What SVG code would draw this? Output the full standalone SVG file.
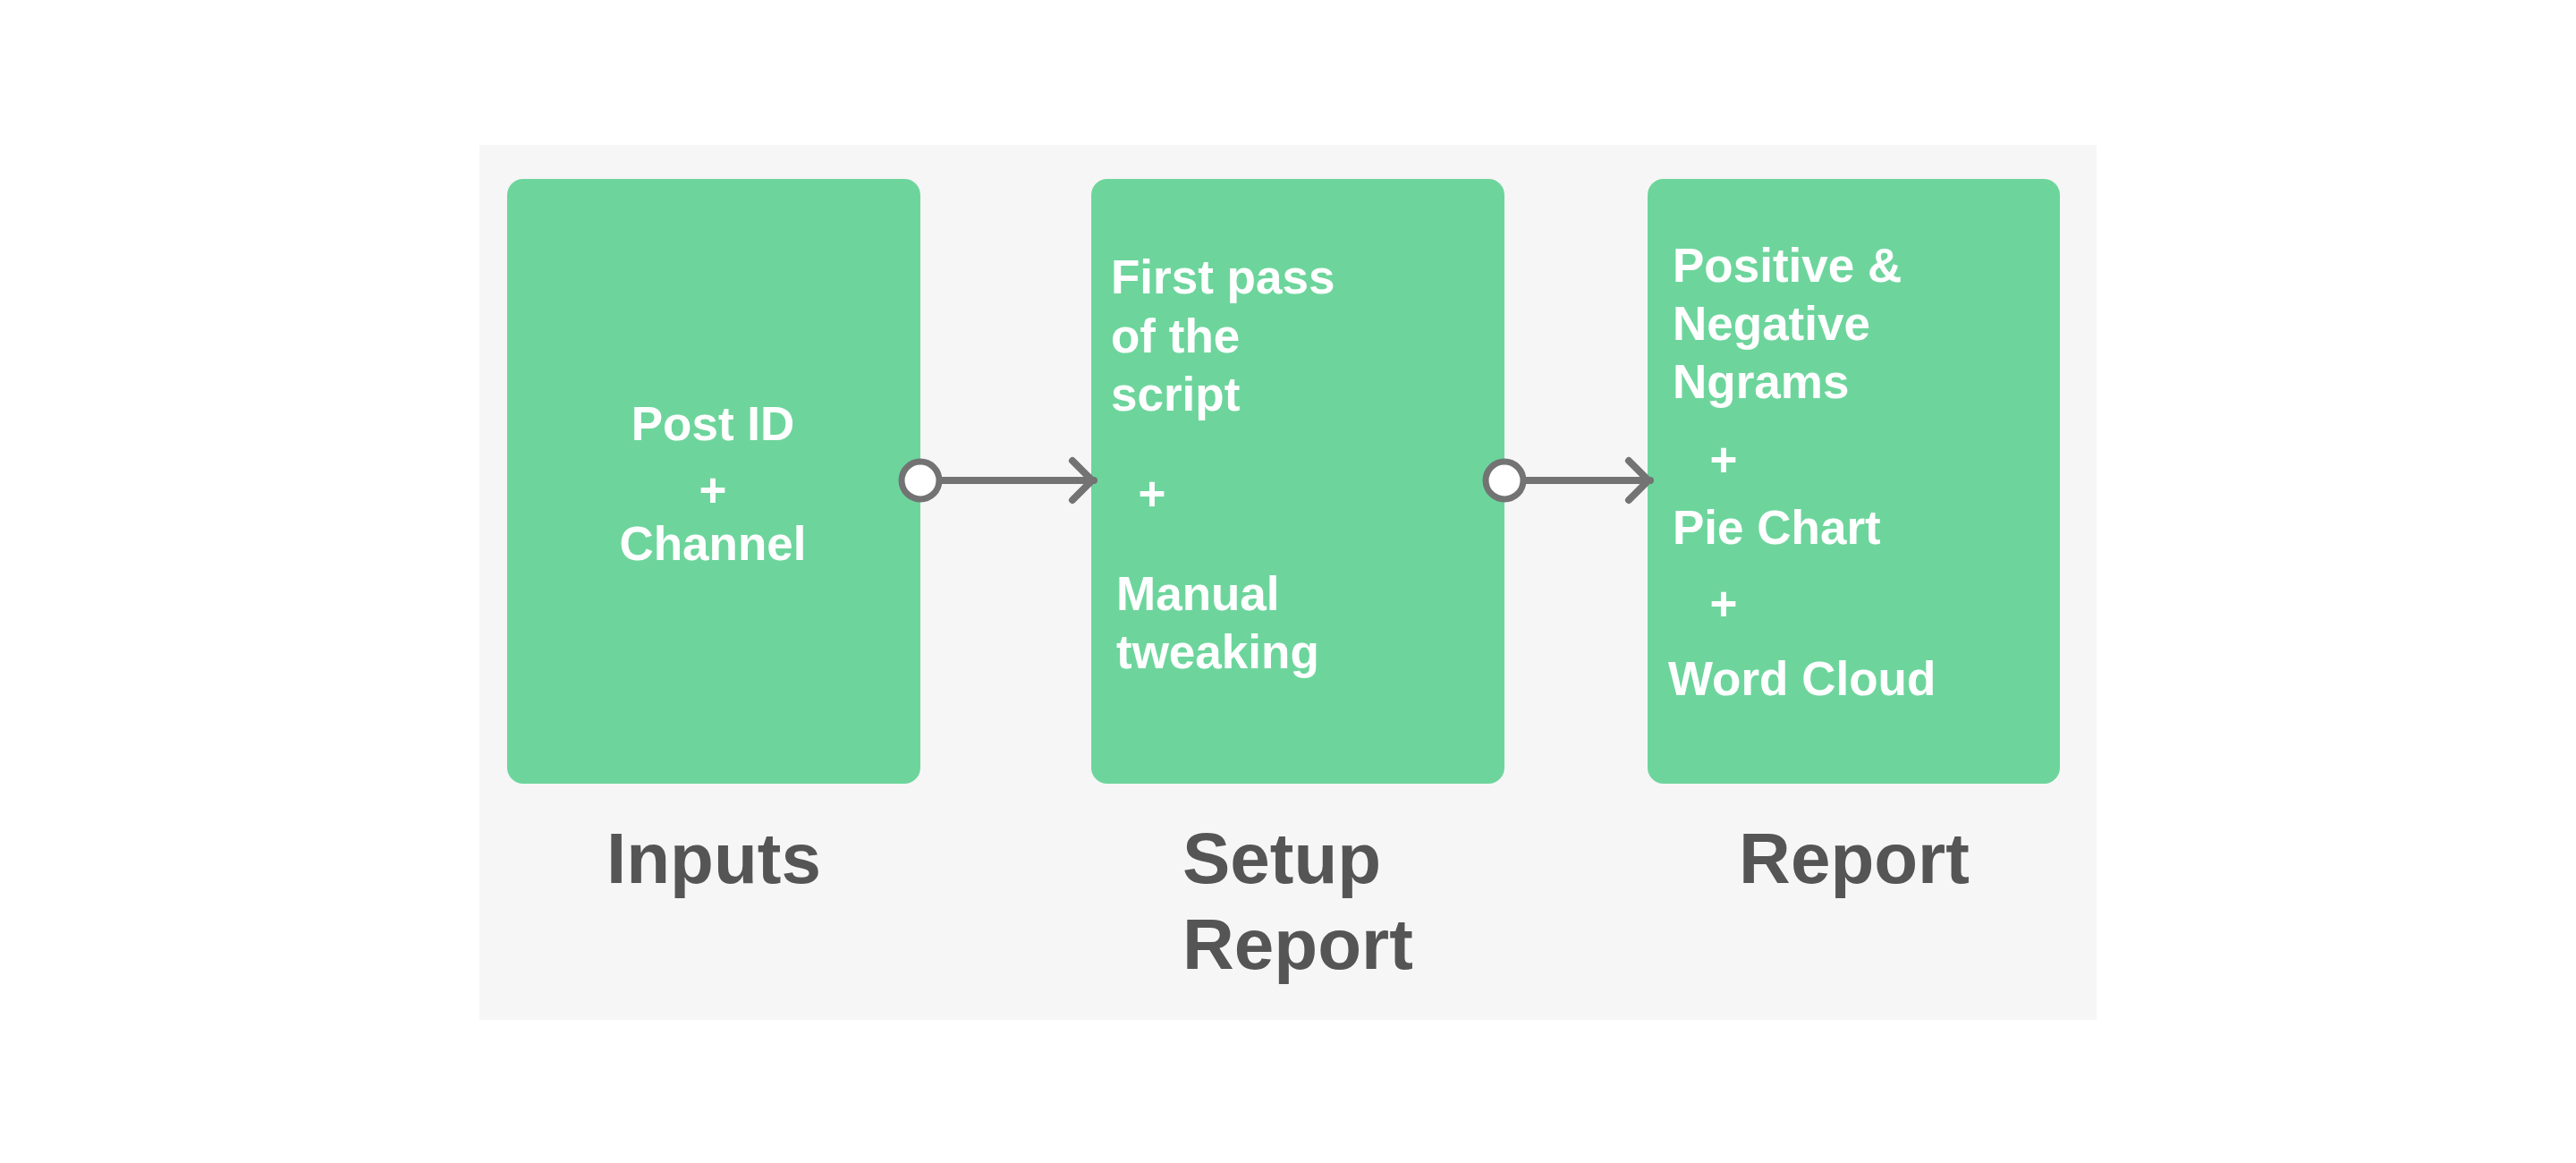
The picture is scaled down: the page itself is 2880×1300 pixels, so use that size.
<svg xmlns="http://www.w3.org/2000/svg" width="2880" height="1300" viewBox="0 0 2880 1300">
<style>
.box{fill:#6DD59C;}
.t{font-family:"Liberation Sans",Arial,sans-serif;font-weight:bold;font-size:53px;fill:#ffffff;}
.lbl{font-family:"Liberation Sans",Arial,sans-serif;font-weight:bold;font-size:80px;fill:#555555;}
.ln{stroke:#737373;stroke-width:8;fill:none;stroke-linecap:round;stroke-linejoin:round;}
.dot{fill:#ffffff;stroke:#737373;stroke-width:7;}
</style>
<rect x="0" y="0" width="2880" height="1300" fill="#ffffff"/>
<rect x="536" y="162" width="1808" height="978" fill="#F6F6F6"/>
<g id="node-inputs">
<rect class="box" x="567" y="200" width="462" height="676" rx="18"/>
<text class="t" x="797" y="492" text-anchor="middle">Post ID</text>
<text class="t" x="797" y="566" text-anchor="middle">+</text>
<text class="t" x="797" y="626" text-anchor="middle">Channel</text>
</g>
<g id="node-setup">
<rect class="box" x="1220" y="200" width="462" height="676" rx="18"/>
<text class="t" x="1242" y="328">First pass</text>
<text class="t" x="1242" y="394">of the</text>
<text class="t" x="1242" y="459">script</text>
<text class="t" x="1288" y="570" text-anchor="middle">+</text>
<text class="t" x="1248" y="682">Manual</text>
<text class="t" x="1248" y="747">tweaking</text>
</g>
<g id="node-report">
<rect class="box" x="1842" y="200" width="461" height="676" rx="18"/>
<text class="t" x="1870" y="315">Positive &amp;</text>
<text class="t" x="1870" y="380">Negative</text>
<text class="t" x="1870" y="445">Ngrams</text>
<text class="t" x="1927" y="532" text-anchor="middle">+</text>
<text class="t" x="1870" y="608">Pie Chart</text>
<text class="t" x="1927" y="693" text-anchor="middle">+</text>
<text class="t" x="1865" y="777">Word Cloud</text>
</g>
<g id="label-inputs"><text class="lbl" x="798" y="987" text-anchor="middle">Inputs</text></g>
<g id="label-setup"><text class="lbl" x="1322" y="987">Setup</text><text class="lbl" x="1322" y="1083">Report</text></g>
<g id="label-report"><text class="lbl" x="2073" y="987" text-anchor="middle">Report</text></g>
<g id="connectors">
<line class="ln" x1="1050" y1="537" x2="1223" y2="537"/>
<path class="ln" d="M1199,515 L1221,537 L1199,559"/>
<circle class="dot" cx="1029" cy="537" r="21"/>
<line class="ln" x1="1703" y1="537" x2="1845" y2="537"/>
<path class="ln" d="M1821,515 L1843,537 L1821,559"/>
<circle class="dot" cx="1682" cy="537" r="21"/>
</g>
</svg>
